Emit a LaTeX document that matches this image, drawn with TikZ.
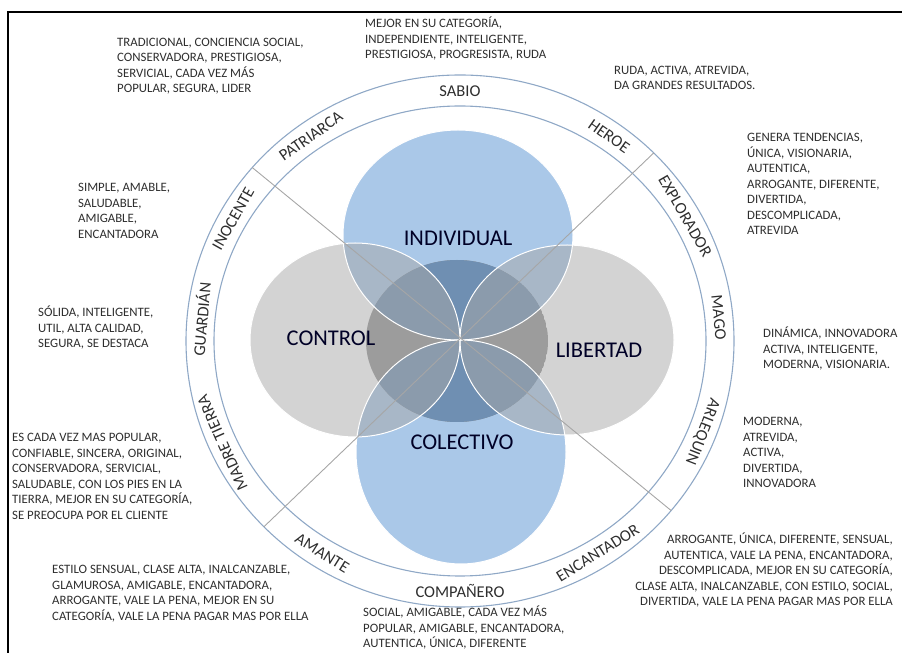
\documentclass[tikz,border=0pt]{standalone}
\usepackage{fontspec}
\setmainfont{Carlito}
\usetikzlibrary{calc}

\definecolor{petalblue}{HTML}{AAC8E8}
\definecolor{coreblue}{HTML}{6F8FB2}
\definecolor{coregray}{HTML}{919191}
\definecolor{petalgray}{HTML}{A7A7A7}
\definecolor{ringblue}{HTML}{8FA8C6}
\definecolor{crossgray}{HTML}{A6A6A6}
\definecolor{inkgray}{HTML}{2E2E2E}

\newcommand{\blockfont}{\fontsize{12.8}{15.5}\selectfont}
\newcommand{\ringfont}{\fontsize{16.5}{19}\selectfont}
\newcommand{\corefont}{\fontsize{22.5}{26}\selectfont}

\begin{document}
\begin{tikzpicture}[
    x=1pt, y=1pt,
    bluepetal/.style={fill=petalblue},
    graypetal/.style={fill=petalgray, fill opacity=0.5},
    outline/.style={draw=white, line width=1pt},
    ring/.style={draw=ringblue, line width=1.1pt},
    cross/.style={draw=crossgray, line width=0.9pt},
    ringlabel/.style={font=\ringfont, text=inkgray, inner sep=0pt},
    corelabel/.style={font=\corefont, text=black!85!blue},
    traits/.style={font=\blockfont, text=inkgray, align=left, anchor=north west,
        inner sep=0pt, execute at begin node={\rule{0pt}{11pt}}}
]
    \useasboundingbox (0,0) rectangle (902,653);

    % Frame (top and left only)
    \draw[line width=1.4pt] (8,0) -- (8,641) -- (902,641);

    % Centres of the band, the petals and the core
    \coordinate (O) at (460,312);
    \coordinate (indiv) at (458,418);
    \coordinate (colec) at (461,201);
    \coordinate (contr) at (355,313);
    \coordinate (liber) at (567,313);
    \coordinate (core) at (457,312);

    % Blue petals
    \fill[bluepetal] (indiv) ellipse [x radius=115, y radius=105];
    \fill[bluepetal] (colec) ellipse [x radius=105, y radius=112];

    % Darker middle, clipped to the core
    \begin{scope}
        \clip (core) ellipse [x radius=91, y radius=81];
        \fill[coregray] (core) ellipse [x radius=91, y radius=81];
        \fill[coreblue] (indiv) ellipse [x radius=115, y radius=105];
        \fill[coreblue] (colec) ellipse [x radius=105, y radius=112];
    \end{scope}

    % Gray petals on top
    \fill[graypetal] (contr) ellipse [x radius=105, y radius=97];
    \fill[graypetal] (liber) ellipse [x radius=107, y radius=95];

    % White rims
    \draw[outline] (indiv) ellipse [x radius=115, y radius=105];
    \draw[outline] (colec) ellipse [x radius=105, y radius=112];
    \draw[outline] (contr) ellipse [x radius=105, y radius=97];
    \draw[outline] (liber) ellipse [x radius=107, y radius=95];

    % Outer band
    \draw[ring] (O) ellipse [x radius=274, y radius=266];
    \draw[ring] (O) ellipse [x radius=246, y radius=235];

    % Diagonals
    \coordinate (nw) at ($(O)+(139.3:274 and 266)$);
    \coordinate (se) at ($(O)+(-39.6:274 and 266)$);
    \coordinate (ne) at ($(O)+(45:274 and 266)$);
    \coordinate (sw) at ($(O)+(224.3:274 and 266)$);
    \draw[cross] (nw) -- (se);
    \draw[cross] (ne) -- (sw);

    % Axis labels
    \node[corelabel] (individual) at (458,415) {INDIVIDUAL};
    \node[corelabel] (control) at (331,315) {CONTROL};
    \node[corelabel] (libertad) at (599,303) {LIBERTAD};
    \node[corelabel] (colectivo) at (462,211) {COLECTIVO};

    % Archetypes around the band
    \node[ringlabel, rotate=0] (sabio) at ($(O)+(90:260 and 250)$) {SABIO};
    \node[ringlabel, rotate=-35] (heroe) at ($(O)+(55:260 and 250)$) {HEROE};
    \node[ringlabel, rotate=-60] (explorador) at ($(O)+(30:260 and 250)$) {EXPLORADOR};
    \node[ringlabel, rotate=-84.6] (mago) at ($(O)+(5.4:260 and 250)$) {MAGO};
    \node[ringlabel, rotate=-111.3] (arlequin) at ($(O)+(-21.3:260 and 250)$) {ARLEQUIN};
    \node[ringlabel, rotate=32] (encantador) at ($(O)+(302:260 and 250)$) {ENCANTADOR};
    \node[ringlabel, rotate=0] (companero) at ($(O)+(270:260 and 250)$) {COMPAÑERO};
    \node[ringlabel, rotate=-32] (amante) at ($(O)+(238:260 and 250)$) {AMANTE};
    \node[ringlabel, rotate=114] (madre) at ($(O)+(204:260 and 250)$) {MADRE TIERRA};
    \node[ringlabel, rotate=85] (guardian) at ($(O)+(175:260 and 250)$) {GUARDIÁN};
    \node[ringlabel, rotate=60.7] (inocente) at ($(O)+(150.7:260 and 250)$) {INOCENTE};
    \node[ringlabel, rotate=35] (patriarca) at ($(O)+(125:260 and 250)$) {PATRIARCA};

    % Traits of each archetype
    \node[traits] (sabiotxt) at (365,636) {MEJOR EN SU CATEGORÍA,\\
        INDEPENDIENTE, INTELIGENTE,\\ PRESTIGIOSA, PROGRESISTA, RUDA};
    \node[traits] (patriarcatxt) at (117,615) {TRADICIONAL, CONCIENCIA SOCIAL,\\
        CONSERVADORA, PRESTIGIOSA,\\ SERVICIAL, CADA VEZ MÁS\\ POPULAR, SEGURA, LIDER};
    \node[traits] (heroetxt) at (614,587) {RUDA, ACTIVA, ATREVIDA,\\
        DA GRANDES RESULTADOS.};
    \node[traits] (exploradortxt) at (747,520) {GENERA TENDENCIAS,\\
        ÚNICA, VISIONARIA,\\ AUTENTICA,\\ ARROGANTE, DIFERENTE,\\ DIVERTIDA,\\
        DESCOMPLICADA,\\ ATREVIDA};
    \node[traits] (inocentetxt) at (78,470) {SIMPLE, AMABLE,\\ SALUDABLE,\\
        AMIGABLE,\\ ENCANTADORA};
    \node[traits] (guardiantxt) at (38,347) {SÓLIDA, INTELIGENTE,\\
        UTIL, ALTA CALIDAD,\\ SEGURA, SE DESTACA};
    \node[traits] (magotxt) at (763,326) {DINÁMICA, INNOVADORA\\
        ACTIVA, INTELIGENTE,\\ MODERNA, VISIONARIA.};
    \node[traits] (arlequintxt) at (743,236) {MODERNA,\\ ATREVIDA,\\ ACTIVA,\\
        DIVERTIDA,\\ INNOVADORA};
    \node[traits] (madretxt) at (12,220) {ES CADA VEZ MAS POPULAR,\\
        CONFIABLE, SINCERA, ORIGINAL,\\ CONSERVADORA, SERVICIAL,\\
        SALUDABLE, CON LOS PIES EN LA\\ TIERRA, MEJOR EN SU CATEGORÍA,\\
        SE PREOCUPA POR EL CLIENTE};
    \node[traits] (amantetxt) at (52,88) {ESTILO SENSUAL, CLASE ALTA, INALCANZABLE,\\
        GLAMUROSA, AMIGABLE, ENCANTADORA,\\ ARROGANTE, VALE LA PENA, MEJOR EN SU\\
        CATEGORÍA, VALE LA PENA PAGAR MAS POR ELLA};
    \node[traits, align=right, anchor=north east] (encantadortxt) at (893,120)
        {ARROGANTE, ÚNICA, DIFERENTE, SENSUAL,\\
        AUTENTICA, VALE LA PENA, ENCANTADORA,\\ DESCOMPLICADA, MEJOR EN SU CATEGORÍA,\\
        CLASE ALTA, INALCANZABLE, CON ESTILO, SOCIAL,\\
        DIVERTIDA, VALE LA PENA PAGAR MAS POR ELLA};
    \node[traits] (companerotxt) at (363,47) {SOCIAL, AMIGABLE, CADA VEZ MÁS\\
        POPULAR, AMIGABLE, ENCANTADORA,\\ AUTENTICA, ÚNICA, DIFERENTE};
\end{tikzpicture}
\end{document}
